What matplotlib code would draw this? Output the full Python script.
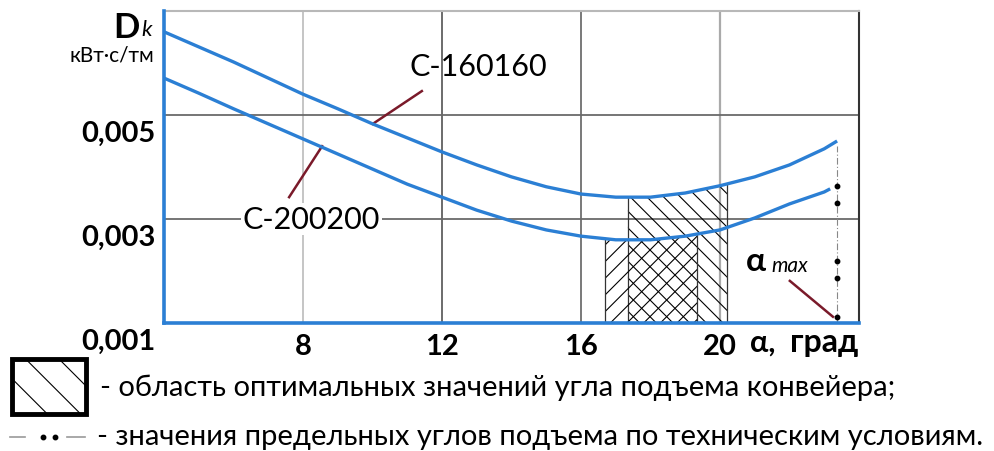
import numpy as np
import matplotlib
matplotlib.use("Agg")
import matplotlib.pyplot as plt
from matplotlib.patches import Rectangle
from matplotlib.lines import Line2D
from matplotlib.transforms import ScaledTranslation

plt.rcParams['font.family'] = ['Lato', 'DejaVu Sans']
plt.rcParams['hatch.linewidth'] = 0.8

# ---- data ----
x_upper = [4, 5, 6, 7, 8, 9, 10, 11, 12, 13, 14, 15, 16, 17, 18, 19, 20, 21, 22, 23, 23.37]
d_upper = [0.00660, 0.00631, 0.00602, 0.00571, 0.00540, 0.00512, 0.00483, 0.00456,
           0.00429, 0.00404, 0.00381, 0.00362, 0.00348, 0.00342, 0.00342, 0.00350,
           0.00364, 0.00381, 0.00404, 0.00435, 0.00450]
x_lower = [4, 5, 6, 7, 8, 9, 10, 11, 12, 13, 14, 15, 16, 17, 18, 19, 20, 21, 22, 23, 23.17]
d_lower = [0.00571, 0.00542, 0.00512, 0.00483, 0.00454, 0.00425, 0.00396, 0.00367,
           0.00342, 0.00317, 0.00296, 0.00279, 0.00267, 0.00260, 0.00260, 0.00267,
           0.00279, 0.00302, 0.00329, 0.00352, 0.00358]
label_upper = "С-160160"
label_lower = "С-200200"

opt_upper = [17.35, 20.2]      # optimal-angle band for С-160160
opt_lower = [16.7, 19.35]      # optimal-angle band for С-200200
alpha_max = 23.37
alpha_max_dots = [0.00364, 0.00331, 0.00219, 0.00187, 0.00112]

x_ticks = [8, 12, 16, 20]
x_ticklabels = ["8", "12", "16", "20"]
y_ticks = [0.001, 0.003, 0.005]
y_ticklabels = ["0,001", "0,003", "0,005"]
x_lim = [4, 24]
y_lim = [0.001, 0.007]

legend_texts = ["- область оптимальных значений угла подъема конвейера;",
                "- значения предельных углов подъема по техническим условиям."]

BLUE = "#2b7fd4"
RED = "#7a1a2a"

fig = plt.figure(figsize=(9.95, 4.52), dpi=100)
ax = fig.add_axes([164/995, 1-324/452, 695/995, 312/452])
ax.set_xlim(*x_lim)
ax.set_ylim(*y_lim)

# grid
grid_cols = {8: "#b5b5b5", 12: "#444444", 16: "#555555", 20: "#aaaaaa"}
for xv in x_ticks:
    ax.axvline(xv, color=grid_cols[xv], lw=1.1 if xv != 20 else 1.6, zorder=1)
for yv in y_ticks[1:]:
    ax.axhline(yv, color="#6a6a6a", lw=1.3, zorder=1)

ax.spines["top"].set_color("#b8b8b8"); ax.spines["top"].set_linewidth(1.5)
ax.spines["right"].set_color("#333333"); ax.spines["right"].set_linewidth(1.5)
for s in ["left", "bottom"]:
    ax.spines[s].set_color(BLUE); ax.spines[s].set_linewidth(2.6)
    ax.spines[s].set_zorder(5)

# hatched optimal regions
def band(xr, xs, ds):
    xx = np.linspace(xr[0], xr[1], 60)
    return xx, np.interp(xx, xs, ds)

xx, yy = band(opt_upper, x_upper, d_upper)
ax.fill_between(xx, y_lim[0], yy, facecolor="none", edgecolor="black",
                hatch="\\\\", linewidth=0, zorder=2)
ax.vlines([xx[0], xx[-1]], y_lim[0], [yy[0], yy[-1]], color="#333333", lw=0.9, zorder=2)
xx2, yy2 = band(opt_lower, x_lower, d_lower)
ax.fill_between(xx2, y_lim[0], yy2, facecolor="none", edgecolor="black",
                hatch="//", linewidth=0, zorder=2)
ax.vlines([xx2[0], xx2[-1]], y_lim[0], [yy2[0], yy2[-1]], color="#333333", lw=0.9, zorder=2)

# curves
ax.plot(x_upper, d_upper, color=BLUE, lw=2.4, zorder=4, solid_capstyle="butt")
ax.plot(x_lower, d_lower, color=BLUE, lw=2.4, zorder=4, solid_capstyle="butt")

# alpha max line
ax.plot([alpha_max, alpha_max], [y_lim[0], d_upper[-1] - 0.0001], color="#888888",
        lw=0.8, linestyle=(0, (6, 2, 1, 2)), zorder=3)
ax.plot([alpha_max]*len(alpha_max_dots), alpha_max_dots, 'o', color="black", ms=3.2, zorder=5)

# leaders and labels
ax.plot([10.01, 11.42], [0.00483, 0.00546], color=RED, lw=1.8, zorder=3)
ax.plot([8.55, 7.6], [0.00440, 0.00342], color=RED, lw=1.8, zorder=3)
ax.plot([22.01, 23.25], [0.00181, 0.00112], color=RED, lw=1.8, zorder=3)

ax.text(13.05, 0.00594, label_upper, fontsize=22, ha="center", va="center", zorder=6)
ax.text(8.25, 0.00300, label_lower, fontsize=22, ha="center", va="center", zorder=6,
        bbox=dict(facecolor="white", edgecolor="none", pad=1))

ax.text(0.851, 0.20, "α", transform=ax.transAxes, fontsize=24, fontweight="bold",
        ha="center", va="center", zorder=6)
ax.text(0.874, 0.185, "max", transform=ax.transAxes, fontsize=15, style="italic",
        ha="left", va="center", zorder=6)

# ticks
ax.set_xticks(x_ticks)
ax.set_xticklabels(x_ticklabels, fontsize=21, fontweight="bold")
ax.set_yticks(y_ticks)
ax.set_yticklabels(y_ticklabels, fontsize=21, fontweight="bold", va="top")
ax.tick_params(axis="both", length=0)
ax.tick_params(axis="x", pad=7)
ax.tick_params(axis="y", pad=6)
shift = ScaledTranslation(0, -5/100, fig.dpi_scale_trans)
for lab in ax.get_yticklabels():
    lab.set_transform(lab.get_transform() + shift)

fig.text(750/995, 1-343/452, "α,", fontsize=22, fontweight="bold",
         ha="left", va="center")
fig.text(858/995, 1-343/452, "град", fontsize=23, fontweight="bold",
         ha="right", va="center")

# D_k label
fig.text(140/995, 1-28/452, "D", fontsize=25, fontweight="bold", ha="right", va="center")
fig.text(141/995, 1-30/452, "k", fontsize=16, style="italic", ha="left", va="center")
fig.text(154/995, 1-55/452, "кВт·с/тм", fontsize=15, ha="right", va="center")

# legend
box = Rectangle((12/995, 1-415/452), 74/995, 55/452, transform=fig.transFigure,
                facecolor="white", edgecolor="black", lw=3.5, hatch="\\")
fig.add_artist(box)
fig.text(100/995, 1-388/452, legend_texts[0], fontsize=21, ha="left", va="center")
fig.add_artist(Line2D([10/995, 25/995], [1-438/452]*2, color="#999999", lw=1.2,
                      transform=fig.transFigure))
fig.add_artist(Line2D([67/995, 85/995], [1-438/452]*2, color="#999999", lw=1.2,
                      transform=fig.transFigure))
fig.add_artist(Line2D([43/995, 55/995], [1-438/452]*2, color="black", lw=0, marker="o",
                      ms=3.2, transform=fig.transFigure))
fig.text(97/995, 1-437/452, legend_texts[1], fontsize=21, ha="left", va="center")

fig.savefig("out.png", dpi=100, facecolor="white")
